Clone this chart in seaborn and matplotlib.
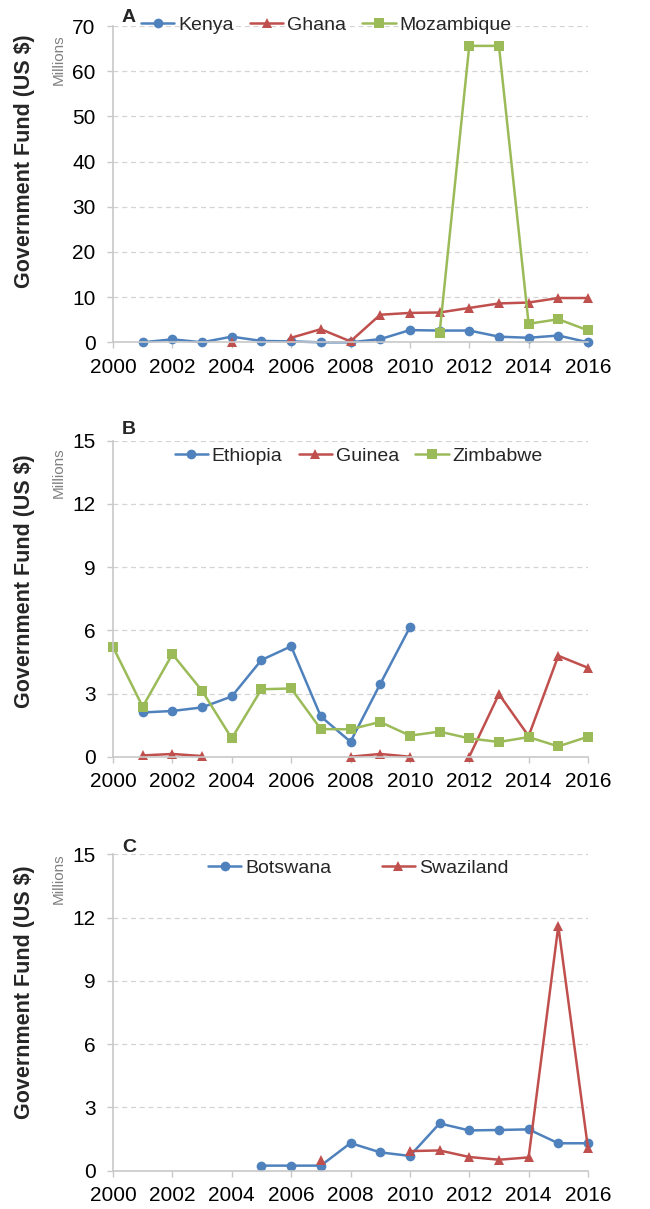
import numpy as np
import pandas as pd
import matplotlib
matplotlib.use("Agg")
import matplotlib.pyplot as plt
import seaborn as sns

nan = np.nan
years = [2000, 2001, 2002, 2003, 2004, 2005, 2006, 2007, 2008,
         2009, 2010, 2011, 2012, 2013, 2014, 2015, 2016]

# Panel A - government funding, US$ millions
kenya = [nan, 0.0, 0.66, 0.0, 1.25, 0.3, 0.2, 0.0, 0.0,
         0.7, 2.7, 2.6, 2.6, 1.25, 1.0, 1.5, 0.0]
ghana = [nan, nan, nan, nan, 0.0, nan, 1.0, 2.9, 0.2,
         6.1, 6.5, 6.6, 7.6, 8.6, 8.8, 9.8, 9.8]
mozambique = [nan, nan, nan, nan, nan, nan, nan, nan, nan,
              nan, nan, 2.0, 65.6, 65.6, 4.1, 5.1, 2.65]

# Panel B
ethiopia = [nan, 2.10, 2.17, 2.34, 2.86, 4.59, 5.24, 1.91, 0.71,
            3.45, 6.14, nan, nan, nan, nan, nan, nan]
guinea = [nan, 0.06, 0.13, 0.03, nan, nan, nan, nan, 0.0,
          0.13, 0.0, nan, 0.0, 2.97, 0.98, 4.79, 4.22]
zimbabwe = [5.21, 2.37, 4.87, 3.13, 0.87, 3.20, 3.24, 1.31, 1.30,
            1.65, 1.0, 1.19, 0.87, 0.70, 0.93, 0.49, 0.95]

# Panel C
botswana = [nan, nan, nan, nan, nan, 0.24, 0.24, 0.24, 1.31,
            0.87, 0.70, 2.24, 1.91, 1.93, 1.96, 1.30, 1.30]
swaziland = [nan, nan, nan, nan, nan, nan, nan, 0.52, nan,
             nan, 0.93, 0.96, 0.65, 0.52, 0.63, 11.6, 1.06]

panels = [
    ("A", {"Kenya": kenya, "Ghana": ghana, "Mozambique": mozambique}, 70, 10),
    ("B", {"Ethiopia": ethiopia, "Guinea": guinea, "Zimbabwe": zimbabwe}, 15, 3),
    ("C", {"Botswana": botswana, "Swaziland": swaziland}, 15, 3),
]

BLUE, RED, GREEN = "#4F81BD", "#C0504D", "#9BBB59"
series_colors = [BLUE, RED, GREEN]
series_markers = ["o", "^", "s"]

sns.set_theme(style="white")
plt.rcParams["font.family"] = ["Liberation Sans", "DejaVu Sans"]

W, H = 650, 1209
fig = plt.figure(figsize=(W / 100, H / 100), dpi=100)

# axes boxes in pixels: left, top, right, bottom
boxes = [(113, 26, 588, 342.3), (113, 440.7, 588, 756.7), (113, 854.3, 588, 1170.7)]
ylabel_centers = [161, 581, 992]
millions_centers = [60, 473, 879]
letter_y = [17, 430, 847]
legend_anchor = [(0.449, 1.003), (0.517, 0.952), (0.516, 0.957)]
legend_colsp = [0.85, 0.85, 2.6]

for i, (letter, series, ymax, ystep) in enumerate(panels):
    l, t, r, b = boxes[i]
    ax = fig.add_axes([l / W, 1 - b / H, (r - l) / W, (b - t) / H])

    names = list(series.keys())
    rows = []
    for name, vals in series.items():
        seg = 0
        prev_missing = True
        for yr, v in zip(years, vals):
            if np.isnan(v):
                prev_missing = True
                continue
            if prev_missing:
                seg += 1
                prev_missing = False
            rows.append({"year": yr, "value": v, "country": name,
                         "segment": f"{name}-{seg}"})
    df = pd.DataFrame(rows)

    palette = {n: c for n, c in zip(names, series_colors)}
    markers = {n: m for n, m in zip(names, series_markers)}

    sns.lineplot(data=df, x="year", y="value", hue="country", style="country",
                 units="segment", estimator=None, hue_order=names,
                 style_order=names, palette=palette, markers=markers,
                 dashes=False, lw=1.8, markersize=7, markeredgewidth=0,
                 clip_on=False, ax=ax)

    ax.set_xlim(2000, 2016)
    ax.set_ylim(0, ymax)
    ax.set_xticks(range(2000, 2017, 2))
    ax.set_yticks(np.arange(0, ymax + ystep / 2, ystep))
    ax.set_xlabel("")
    ax.set_ylabel("")

    sns.despine(ax=ax)
    for side in ("left", "bottom"):
        ax.spines[side].set_color("#c8c8c8")
        ax.spines[side].set_linewidth(1.2)
    ax.tick_params(axis="both", which="major", bottom=True, left=True,
                   direction="out", length=4, width=1, color="#c8c8c8",
                   labelsize=15, labelcolor="black")
    ax.tick_params(axis="x", pad=7)
    ax.tick_params(axis="y", pad=8.5)
    ax.yaxis.grid(True, linestyle=(0, (4, 3)), color="#d4d4d4", lw=0.9)
    ax.set_axisbelow(True)

    sns.move_legend(ax, "center", bbox_to_anchor=legend_anchor[i],
                    ncol=len(names), frameon=False, title="", fontsize=14,
                    handlelength=1.7, handletextpad=0.2,
                    columnspacing=legend_colsp[i], borderaxespad=0)

    fig.text(25 / W, 1 - ylabel_centers[i] / H, "Government Fund (US $)",
             rotation=90, ha="center", va="center", fontsize=15.5,
             fontweight="bold")
    fig.text(59 / W, 1 - millions_centers[i] / H, "Millions", rotation=90,
             ha="center", va="center", fontsize=11, color="#808080")
    fig.text(129 / W, 1 - letter_y[i] / H, letter, ha="center", va="center",
             fontsize=14, fontweight="bold")

fig.savefig("out.png", dpi=100)
